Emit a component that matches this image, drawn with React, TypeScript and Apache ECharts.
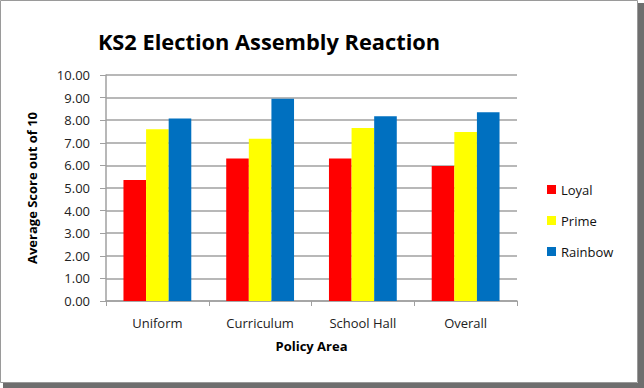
import React, { useEffect, useRef } from "react";
import * as echarts from "echarts";

const categories = ["Uniform", "Curriculum", "School Hall", "Overall"];
const loyal = [5.35, 6.3, 6.3, 5.97];
const prime = [7.6, 7.18, 7.65, 7.48];
const rainbow = [8.07, 8.95, 8.17, 8.35];
const seriesNames = ["Loyal", "Prime", "Rainbow"];
const seriesColors = ["#ff0000", "#ffff00", "#0070c0"];

const FONT = "'Open Sans', 'DejaVu Sans', sans-serif";

export default function App() {
  const ref = useRef<HTMLDivElement>(null);
  useEffect(() => {
    if (!ref.current) return;
    const chart = echarts.init(ref.current, undefined, { renderer: "svg" });
    const values = [loyal, prime, rainbow];
    chart.setOption({
      animation: false,
      backgroundColor: "#ffffff",
      textStyle: { fontFamily: FONT },
      title: {
        text: "KS2 Election Assembly Reaction",
        left: 264,
        textAlign: "center",
        top: 25,
        textStyle: {
          fontFamily: FONT,
          fontSize: 21.8,
          fontWeight: "bold",
          color: "#000000",
        },
      },
      legend: {
        orient: "vertical",
        left: 542,
        top: 178,
        itemWidth: 9,
        itemHeight: 9,
        itemGap: 18,
        icon: "rect",
        textStyle: { fontFamily: FONT, fontSize: 13, color: "#111" },
        data: seriesNames,
      },
      grid: { left: 106, right: 127, top: 75, bottom: 87, containLabel: false },
      xAxis: {
        type: "category",
        data: categories,
        name: "Policy Area",
        nameLocation: "middle",
        nameGap: 38,
        nameTextStyle: { fontFamily: FONT, fontSize: 13, fontWeight: "bold", color: "#000" },
        axisLine: { lineStyle: { color: "#a0a0a0", width: 1.5 } },
        axisTick: { show: true, length: 5, lineStyle: { color: "#a0a0a0" } },
        axisLabel: { fontFamily: FONT, fontSize: 13, color: "#222", margin: 15 },
      },
      yAxis: {
        type: "value",
        min: 0,
        max: 10,
        interval: 1,
        name: "Average Score out of 10",
        nameLocation: "middle",
        nameGap: 68,
        nameRotate: 90,
        nameTextStyle: { fontFamily: FONT, fontSize: 13, fontWeight: "bold", color: "#000" },
        axisLine: { show: true, lineStyle: { color: "#a0a0a0", width: 1.5 } },
        axisTick: { show: true, length: 6, lineStyle: { color: "#a0a0a0" } },
        axisLabel: {
          fontFamily: FONT,
          fontSize: 13,
          color: "#222",
          margin: 16,
          formatter: (v: number) => v.toFixed(2),
        },
        splitLine: { lineStyle: { color: "#a0a0a0", width: 1.5 } },
      },
      series: seriesNames.map((n, i) => ({
        name: n,
        type: "bar",
        data: values[i],
        barGap: "0%",
        barCategoryGap: "34%",
        itemStyle: { color: seriesColors[i] },
      })),
      graphic: [
        {
          type: "rect",
          shape: { x: 638, y: 3, width: 6, height: 385 },
          style: { fill: "#6e6e6e" },
          silent: true,
        },
        {
          type: "rect",
          shape: { x: 3, y: 383, width: 641, height: 5 },
          style: { fill: "#6e6e6e" },
          silent: true,
        },
        {
          type: "rect",
          shape: { x: 0.5, y: 0.5, width: 637, height: 382 },
          style: { fill: "none", stroke: "#9a9a9a", lineWidth: 1 },
          silent: true,
        },
      ],
    });
    return () => chart.dispose();
  }, []);
  return (
    <div
      ref={ref}
      style={{ position: "fixed", left: 0, top: 0, width: 644, height: 388 }}
    />
  );
}
